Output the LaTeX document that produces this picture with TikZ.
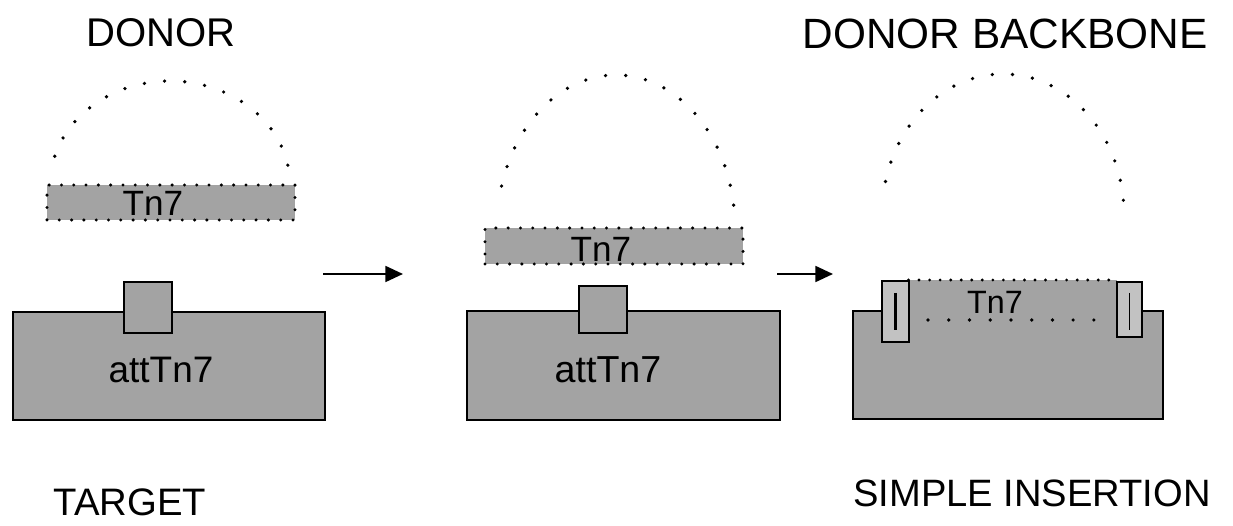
\documentclass[tikz,border=0pt]{standalone}
\usepackage{fontspec}
\setmainfont{Liberation Sans}
\usetikzlibrary{arrows.meta}
\newdimen\pxu \pxu=0.02cm
\tikzset{
  graybg/.style={fill=black!36},
  solidbox/.style={draw=black, line width=1.1pt, graybg, inner sep=0pt, outer sep=0pt},
  lightbox/.style={draw=black, line width=1.1pt, fill=black!24, inner sep=0pt, outer sep=0pt},
  tnbox/.style={graybg, draw=black, line width=1.9pt, dash pattern=on 0pt off 7pt, line cap=round, inner sep=0pt, outer sep=0pt},
  dotarc/.style={draw=black, line width=2.1pt, dash pattern=on 0pt off 11.5pt, line cap=round},
  fineline/.style={draw=black, line width=1.8pt, dash pattern=on 0pt off 6pt, line cap=round},
  lbl/.style={font=\fontsize{#1}{#1}\selectfont, inner sep=0pt, outer sep=0pt},
  conn/.style={line width=1.3pt, -{Triangle[length=10pt,width=9pt]}}
}
\begin{document}
\begin{tikzpicture}[x=0.02cm,y=0.02cm]
\useasboundingbox (0,0) rectangle (1233,-526);

% ---------- titles ----------
\node[lbl=22.8pt] (tdonor) at (161,-32.5) {DONOR};
\node[lbl=24.1pt] (tback) at (1005,-33.5) {DONOR BACKBONE};
\node[lbl=21.8pt] (ttarget) at (130,-502) {TARGET};
\node[lbl=21.7pt] (tsimple) at (1032,-493.5) {SIMPLE INSERTION};

% ---------- panel 1 ----------
\draw[dotarc] (170,-185) ++(11:120 and 104) arc[start angle=11, end angle=169, x radius=120, y radius=104];
\node[tnbox, minimum width=248\pxu, minimum height=35\pxu] (tn1) at (171,-202.5) {};
\node[lbl=20pt] (tn1t) at (153,-203) {Tn7};
\node[solidbox, minimum width=312\pxu, minimum height=108\pxu] (big1) at (169,-366) {};
\node[solidbox, minimum width=48\pxu, minimum height=51\pxu] (sq1) at (148,-307.5) {};
\node[lbl=21pt] (att1) at (161,-370) {attTn7};

% ---------- panel 2 ----------
\draw[dotarc] (616,-228) ++(8.6:119 and 153) arc[start angle=8.6, end angle=171.4, x radius=119, y radius=153];
\node[tnbox, minimum width=258\pxu, minimum height=36\pxu] (tn2) at (614,-246) {};
\node[lbl=20pt] (tn2t) at (601,-249) {Tn7};
\node[solidbox, minimum width=313\pxu, minimum height=109\pxu] (big2) at (623.5,-365.5) {};
\node[solidbox, minimum width=48\pxu, minimum height=47\pxu] (sq2) at (603,-309.5) {};
\node[lbl=21.4pt] (att2) at (608,-370) {attTn7};

% ---------- panel 3 ----------
\draw[dotarc] (1003,-215) ++(6:121 and 141) arc[start angle=6, end angle=174, x radius=121, y radius=141];
\node[solidbox, minimum width=310\pxu, minimum height=108\pxu] (big3) at (1008,-365) {};
\node[graybg, inner sep=0pt, outer sep=0pt, minimum width=208\pxu, minimum height=33\pxu] (ins3) at (1012.5,-296.5) {};
\draw[fineline] (ins3.north west) -- (ins3.north east);
\coordinate (d3a) at (928,-320);
\coordinate (d3b) at (1097,-320);
\draw[dotarc, dash pattern=on 0pt off 11.8pt] (d3a) -- (d3b);
\node[lightbox, minimum width=27\pxu, minimum height=61\pxu] (lr) at (895.5,-311.5) {};
\node[lightbox, minimum width=25\pxu, minimum height=55\pxu] (rr) at (1129.5,-309.5) {};
\draw[line width=1.4pt] ([yshift=-12\pxu]lr.north) -- ([yshift=12\pxu]lr.south);
\draw[line width=0.9pt] ([yshift=-11\pxu]rr.north) -- ([yshift=7\pxu]rr.south);
\node[lbl=18.4pt] (tn3t) at (995,-302) {Tn7};

% ---------- arrows ----------
\coordinate (a1s) at (323,-274);
\coordinate (a1e) at (403,-274);
\coordinate (a2s) at (777,-274);
\coordinate (a2e) at (833,-274);
\draw[conn] (a1s) -- (a1e);
\draw[conn] (a2s) -- (a2e);
\end{tikzpicture}
\end{document}
